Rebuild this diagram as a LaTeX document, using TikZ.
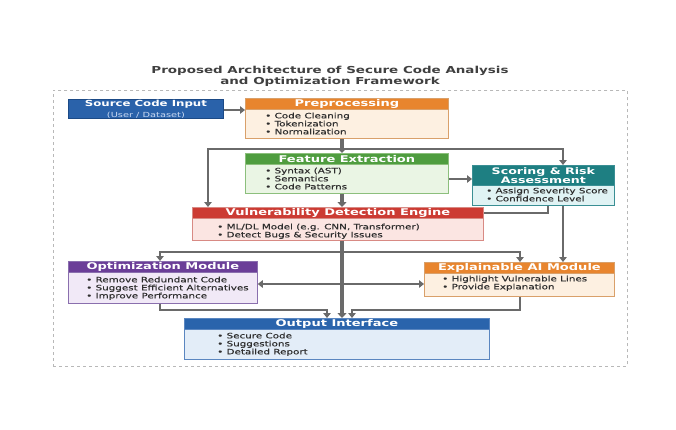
\documentclass[tikz,border=0pt]{standalone}
\usepackage{fontspec}
\setmainfont{DejaVu Sans}[FakeStretch=1.4]
\newfontfamily\bodyfont{DejaVu Sans}[FakeStretch=1.4,FakeBold=0.4]
\usetikzlibrary{arrows.meta,calc}
\definecolor{arrc}{HTML}{6A6A6A}
\definecolor{txt}{HTML}{2E2E2E}
\definecolor{ttl}{HTML}{404040}
\definecolor{srcf}{HTML}{2A62AA}
\definecolor{srcd}{HTML}{1C4A86}
\definecolor{srcs}{HTML}{C9D9F2}
\definecolor{orh}{HTML}{E8852E}
\definecolor{orb}{HTML}{FDF0E1}
\definecolor{ord}{HTML}{D9A06A}
\definecolor{grh}{HTML}{4F9D3F}
\definecolor{grb}{HTML}{EAF5E4}
\definecolor{grd}{HTML}{8CBF7C}
\definecolor{tlh}{HTML}{1E7F82}
\definecolor{tlb}{HTML}{E0F3F4}
\definecolor{tld}{HTML}{3A8F94}
\definecolor{rdh}{HTML}{CC3B33}
\definecolor{rdb}{HTML}{FBE5E2}
\definecolor{rdd}{HTML}{D88A84}
\definecolor{puh}{HTML}{6B3E98}
\definecolor{pub}{HTML}{F1E9F7}
\definecolor{pud}{HTML}{8A6FAE}
\definecolor{buh}{HTML}{2A64AC}
\definecolor{bub}{HTML}{E3EDF8}
\definecolor{bud}{HTML}{5A86C0}
\begin{document}
\begin{tikzpicture}[x=1pt,y=-1pt,
  modbox/.style={draw=#1, line width=0.8pt, inner sep=0pt, anchor=north west},
  hd/.style={draw=#1, line width=0.8pt, text=white, inner sep=0pt, anchor=north west, minimum height=11pt, font=\bfseries\fontsize{9.3}{10}\selectfont},
  items/.style={font=\bodyfont\fontsize{7.4}{8}\selectfont, text=txt, align=left, anchor=north west, inner sep=0pt},
  ttlstyle/.style={font=\bfseries\fontsize{9.6}{10}\selectfont, text=ttl, inner sep=0pt},
  arr/.style={draw=arrc, line width=2.2pt, -{Triangle[length=5pt,width=7.5pt]}},
  big/.style={draw=arrc, line width=3.6pt, -{Triangle[length=5pt,width=9pt]}},
  ln/.style={draw=arrc, line width=2.2pt},
  dbl/.style={draw=arrc, line width=2.2pt, {Triangle[length=5pt,width=7.5pt]}-{Triangle[length=5pt,width=7.5pt]}}
]
\useasboundingbox (0,0) rectangle (676,429);
\fill[white] (0,0) rectangle (676,429);

% title
\node[ttlstyle] (t1) at (330,71) {Proposed Architecture of Secure Code Analysis};
\node[ttlstyle] (t2) at (330,82) {and Optimization Framework};

% frame
\node[draw=black!28, dashed, line width=0.7pt, inner sep=0pt, anchor=north west, minimum width=574pt, minimum height=276pt] (frame) at (53,90) {};

% source
\node[fill=srcf, draw=srcd, line width=0.8pt, anchor=north west, minimum width=155pt, minimum height=19pt, inner sep=0pt, align=center, text=white] (src) at (68,99)
 {{\bfseries\fontsize{8.4}{9}\selectfont Source Code Input}\\[-1pt]{\fontsize{7}{7}\selectfont\color{srcs}(User / Dataset)}};

% preprocessing
\node[modbox=ord, fill=orb, minimum width=203pt, minimum height=40pt] (pre) at (245,98) {};
\node[hd=ord, fill=orh, minimum width=203pt] (preh) at (245,98) {Preprocessing};
\node[items] (prei) at (265,112.5) {• Code Cleaning\\• Tokenization\\• Normalization};

% feature extraction
\node[modbox=grd, fill=grb, minimum width=203pt, minimum height=40pt] (fe) at (245,153) {};
\node[hd=grd, fill=grh, minimum width=203pt] (feh) at (245,153) {Feature Extraction};
\node[items] (fei) at (265,167.5) {• Syntax (AST)\\• Semantics\\• Code Patterns};

% scoring
\node[modbox=tld, fill=tlb, minimum width=142pt, minimum height=40pt] (sc) at (472,165) {};
\node[hd=tld, fill=tlh, minimum width=142pt, minimum height=19.5pt, align=center, font=\bfseries\fontsize{9}{9}\selectfont] (sch) at (472,165) {Scoring \& Risk\\Assessment};
\node[items] (sci) at (486,187.5) {• Assign Severity Score\\• Confidence Level};

% vulnerability
\node[modbox=rdd, fill=rdb, minimum width=291pt, minimum height=33pt] (vde) at (192,207) {};
\node[hd=rdd, fill=rdh, minimum width=291pt] (vdeh) at (192,207) {Vulnerability Detection Engine};
\node[items] (vdei) at (217,223.5) {• ML/DL Model (e.g. CNN, Transformer)\\• Detect Bugs \& Security Issues};

% optimization
\node[modbox=pud, fill=pub, minimum width=189pt, minimum height=42pt] (opt) at (68,261) {};
\node[hd=pud, fill=puh, minimum width=189pt] (opth) at (68,261) {Optimization Module};
\node[items] (opti) at (86,276.5) {• Remove Redundant Code\\• Suggest Efficient Alternatives\\• Improve Performance};

% explainable
\node[modbox=ord, fill=orb, minimum width=190pt, minimum height=34pt] (xai) at (424,262) {};
\node[hd=ord, fill=orh, minimum width=190pt] (xaih) at (424,262) {Explainable AI Module};
\node[items] (xaii) at (442,275.5) {• Highlight Vulnerable Lines\\• Provide Explanation};

% output
\node[modbox=bud, fill=bub, minimum width=305pt, minimum height=41pt] (out) at (184,318) {};
\node[hd=bud, fill=buh, minimum width=305pt] (outh) at (184,318) {Output Interface};
\node[items] (outi) at (217,332.5) {• Secure Code\\• Suggestions\\• Detailed Report};

% helper coordinates
\coordinate (spx) at (342,0);
\coordinate (lx) at (208,0);
\coordinate (rx) at (563,0);
\coordinate (sx) at (548,0);
\coordinate (ox) at (160,0);
\coordinate (ex) at (520,0);
\coordinate (oL) at (327,0);
\coordinate (oR) at (352,0);
\coordinate (y1) at (0,149);
\coordinate (y2) at (0,213);
\coordinate (y3) at (0,252);
\coordinate (y4) at (0,284);
\coordinate (y5) at (0,310);
\coordinate (y6) at (0,179);
\coordinate (y0) at (0,110);

% connectors
\draw[arr] (src.east |- y0) -- (pre.west |- y0);
\draw[big] (pre.south -| spx) -- (fe.north -| spx);
\draw[arr] (spx |- y1) -| (lx |- vde.north);
\draw[arr] (spx |- y1) -| (rx |- sc.north);
\draw[arr] (fe.east |- y6) -- (sc.west |- y6);
\draw[big] (fe.south -| spx) -- (vde.north -| spx);
\draw[ln] (sx |- sc.south) |- (vde.east |- y2);
\draw[arr] (rx |- sc.south) -- (rx |- xai.north);
\draw[big] (vde.south -| spx) -- (out.north -| spx);
\draw[arr] (spx |- y3) -| (ox |- opt.north);
\draw[arr] (spx |- y3) -| (ex |- xai.north);
\draw[dbl] (opt.east |- y4) -- (xai.west |- y4);
\draw[arr] (ox |- opt.south) |- (oL |- y5) -- (oL |- out.north);
\draw[arr] (ex |- xai.south) |- (oR |- y5) -- (oR |- out.north);
\end{tikzpicture}
\end{document}
